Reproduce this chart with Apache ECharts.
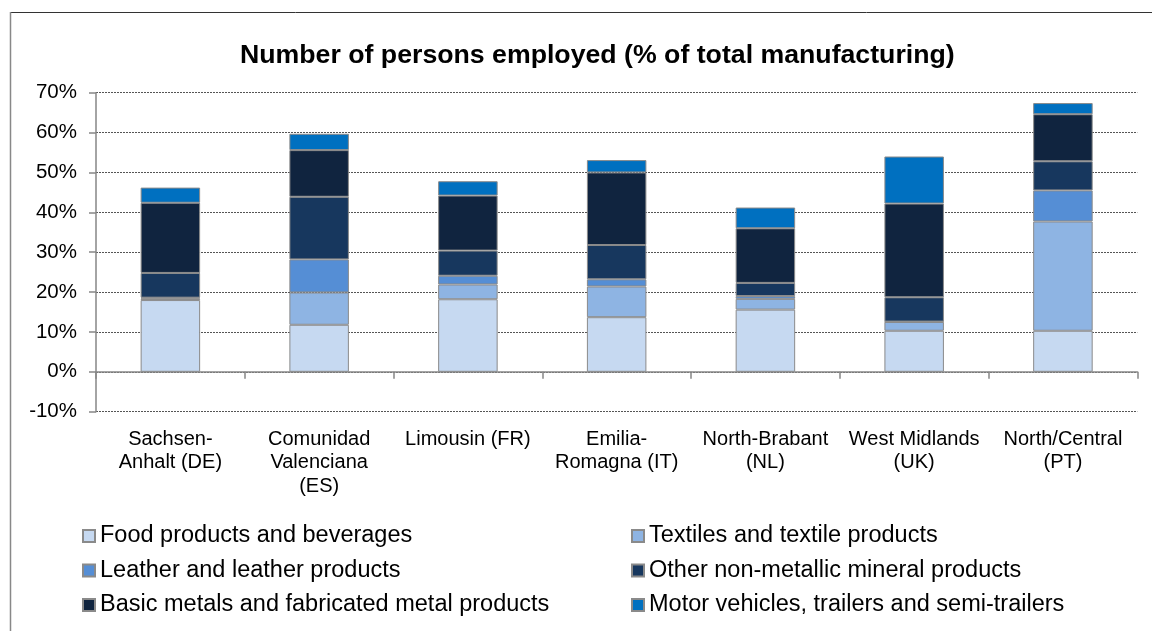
<!DOCTYPE html>
<html>
<head>
<meta charset="utf-8">
<script src="https://cdn.jsdelivr.net/npm/echarts@6/dist/echarts.min.js"></script>
<style>
  html, body { margin: 0; padding: 0; background: #fff; }
  #chart { width: 1152px; height: 631px; }
</style>
</head>
<body>
<div id="chart"></div>
<script>
const categories = ['Sachsen-\nAnhalt (DE)', 'Comunidad\nValenciana\n(ES)', 'Limousin (FR)', 'Emilia-\nRomagna (IT)', 'North-Brabant\n(NL)', 'West Midlands\n(UK)', 'North/Central\n(PT)'];
const seriesNames = ['Food products and beverages', 'Textiles and textile products', 'Leather and leather products', 'Other non-metallic mineral products', 'Basic metals and fabricated metal products', 'Motor vehicles, trailers and semi-trailers'];
const food = [18.0, 11.8, 18.2, 13.7, 15.6, 10.3, 10.3];
const textiles = [0.4, 8.1, 3.7, 7.7, 2.7, 2.2, 27.4];
const leather = [0.2, 8.3, 2.2, 1.8, 0.7, 0.1, 7.8];
const otherMineral = [6.2, 15.7, 6.3, 8.6, 3.3, 6.1, 7.3];
const basicMetals = [17.6, 11.7, 13.8, 18.2, 13.7, 23.5, 11.8];
const motorVehicles = [3.8, 4.1, 3.6, 3.1, 5.2, 11.8, 2.8];
const yTicks = { min: -10, max: 70, interval: 10 };

const values = [food, textiles, leather, otherMineral, basicMetals, motorVehicles];
const colors = ['#C6D9F1', '#8EB4E3', '#558ED5', '#17375E', '#10243F', '#0070C0'];
const FONT = 'Liberation Sans, Arial, sans-serif';

const chart = echarts.init(document.getElementById('chart'), null, { renderer: 'canvas' });
const legendBase = {
  orient: 'vertical', top: 524, itemWidth: 12, itemHeight: 12, itemGap: 10.5, padding: 0, icon: 'rect',
  textStyle: { fontFamily: FONT, fontSize: 23.5, color: '#000', lineHeight: 24 }
};
const option = {
  animation: false,
  backgroundColor: '#fff',
  title: {
    text: 'Number of persons employed (% of total manufacturing)',
    left: 240, top: 42, padding: 0,
    textStyle: { fontFamily: FONT, fontSize: 26.7, fontWeight: 'bold', color: '#000', lineHeight: 27 }
  },
  graphic: [
    { type: 'line', shape: { x1: 10, y1: 12.5, x2: 1152, y2: 12.5 }, style: { stroke: '#333', lineWidth: 1 } },
    { type: 'line', shape: { x1: 10.5, y1: 12, x2: 10.5, y2: 631 }, style: { stroke: '#888', lineWidth: 1.5 } }
  ],
  legend: [
    Object.assign({}, legendBase, { left: 82, data: [seriesNames[0], seriesNames[2], seriesNames[4]] }),
    Object.assign({}, legendBase, { left: 631, data: [seriesNames[1], seriesNames[3], seriesNames[5]] })
  ],
  grid: { left: 96, right: 14.7, top: 92.7, bottom: 219.3, containLabel: false },
  xAxis: [
    {
      type: 'category', data: categories, position: 'bottom',
      axisLine: { onZero: true, lineStyle: { color: '#868686', width: 1.5 } },
      axisTick: { show: true, length: 7, lineStyle: { color: '#868686', width: 1.5 } },
      axisLabel: { show: false },
      splitLine: { show: false }
    },
    {
      type: 'category', data: categories, position: 'bottom',
      axisLine: { show: false, onZero: false },
      axisTick: { show: false },
      axisLabel: { show: true, interval: 0, margin: 16, fontFamily: FONT, fontSize: 20, color: '#000', lineHeight: 23.5 },
      splitLine: { show: false }
    }
  ],
  yAxis: {
    type: 'value', min: yTicks.min, max: yTicks.max, interval: yTicks.interval,
    axisLine: { show: true, lineStyle: { color: '#868686', width: 1.5 } },
    axisTick: { show: true, length: 7, lineStyle: { color: '#868686', width: 1.5 } },
    axisLabel: { formatter: '{value}%', margin: 19, fontFamily: FONT, fontSize: 20.5, color: '#000' },
    splitLine: { show: true, lineStyle: { color: '#555', width: 1, type: [2, 1] } }
  },
  series: seriesNames.map((name, i) => ({
    name: name,
    type: 'bar',
    stack: 'total',
    xAxisIndex: 0,
    barWidth: '40%',
    data: values[i],
    itemStyle: { color: colors[i], borderColor: '#8a8a8a', borderWidth: 1 }
  }))
};
chart.setOption(option);
</script>
</body>
</html>
